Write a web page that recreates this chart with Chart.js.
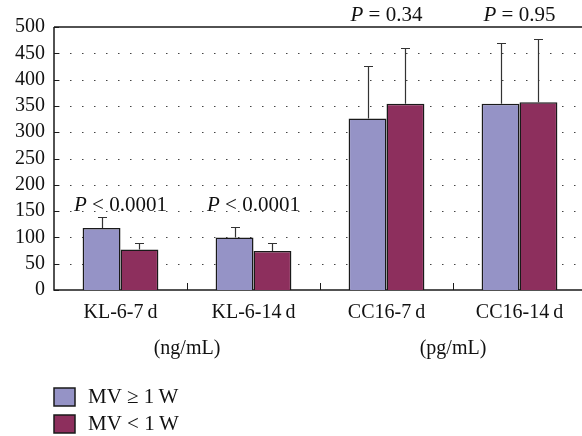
<!DOCTYPE html>
<html>
<head>
<meta charset="utf-8">
<script src="https://cdn.jsdelivr.net/npm/chart.js@4/dist/chart.umd.min.js"></script>
<style>
html, body { margin: 0; padding: 0; background: #fff; overflow: hidden; }
#wrap { width: 590px; height: 436px; }
</style>
</head>
<body>
<div id="wrap"><canvas id="c" width="590" height="436"></canvas></div>
<script>
// values
const categories = ['KL-6-7\u2009d', 'KL-6-14\u2009d', 'CC16-7\u2009d', 'CC16-14\u2009d'];
const seriesNames = ['MV \u2265 1\u2009W', 'MV < 1\u2009W'];
const longMV = [118, 100, 326, 354];
const longMVTop = [139, 119, 425, 470];   // end of upper whisker
const shortMV = [77, 74, 354, 357];
const shortMVTop = [90, 89, 461, 477];
const pTexts = ['< 0.0001', '< 0.0001', '= 0.34', '= 0.95'];
const pAt = [161, 161, 521, 521];
const units = ['(ng/mL)', '(pg/mL)'];
const yTicks = [0, 50, 100, 150, 200, 250, 300, 350, 400, 450, 500];

const colors = ['#9593c6', '#8d2f5d'];
const ink = '#1a1a1a';
const serif = "'Liberation Serif', 'Times New Roman', serif";

const decor = {
  id: 'decor',
  beforeDatasetsDraw(chart) {
    const { ctx, chartArea: a, scales: { x, y } } = chart;
    ctx.save();
    // dotted grid
    ctx.strokeStyle = '#444';
    ctx.lineWidth = 1;
    ctx.setLineDash([1.5, 10.5]);
    yTicks.forEach(v => {
      if (v === 0 || v === 500) return;
      const py = Math.round(y.getPixelForValue(v)) + 0.5;
      ctx.beginPath();
      ctx.moveTo(a.left + 4, py);
      ctx.lineTo(a.right, py);
      ctx.stroke();
    });
    ctx.setLineDash([]);
    ctx.strokeStyle = ink;
    ctx.lineWidth = 1.5;
    ctx.beginPath();
    ctx.moveTo(a.left, a.top);
    ctx.lineTo(a.right, a.top);
    ctx.moveTo(a.left, a.top);
    ctx.lineTo(a.left, a.bottom);
    ctx.lineTo(a.right, a.bottom);
    ctx.stroke();
    // inner ticks
    ctx.lineWidth = 1;
    yTicks.forEach(v => {
      const py = Math.round(y.getPixelForValue(v)) + 0.5;
      ctx.beginPath();
      ctx.moveTo(a.left, py);
      ctx.lineTo(a.left + 5, py);
      ctx.stroke();
    });
    for (let i = 1; i < categories.length; i++) {
      const px = Math.round((x.getPixelForValue(i - 1) + x.getPixelForValue(i)) / 2) + 0.5;
      ctx.beginPath();
      ctx.moveTo(px, a.bottom);
      ctx.lineTo(px, a.bottom - 7);
      ctx.stroke();
    }
    ctx.restore();
  },
  afterDatasetsDraw(chart) {
    const { ctx, scales: { x, y } } = chart;
    ctx.save();
    ctx.strokeStyle = '#333';
    ctx.lineWidth = 1.2;
    [longMVTop, shortMVTop].forEach((tops, di) => {
      const meta = chart.getDatasetMeta(di);
      tops.forEach((t, i) => {
        const bar = meta.data[i];
        const px = Math.round(bar.x) + 0.5;
        const y0 = bar.y;
        const y1 = Math.round(y.getPixelForValue(t)) + 0.5;
        ctx.beginPath();
        ctx.moveTo(px, y0);
        ctx.lineTo(px, y1);
        ctx.moveTo(px - 4.5, y1);
        ctx.lineTo(px + 4.5, y1);
        ctx.stroke();
      });
    });

    // P values
    ctx.fillStyle = '#111';
    ctx.textBaseline = 'middle';
    ctx.textAlign = 'left';
    pTexts.forEach((t, i) => {
      ctx.font = 'italic 21px ' + serif;
      const wp = ctx.measureText('P').width;
      ctx.font = '21px ' + serif;
      const rest = ' ' + t;
      const wr = ctx.measureText(rest).width;
      const cx = x.getPixelForValue(i);
      const py = y.getPixelForValue(pAt[i]);
      const x0 = cx - (wp + wr) / 2;
      ctx.font = 'italic 21px ' + serif;
      ctx.fillText('P', x0, py);
      ctx.font = '21px ' + serif;
      ctx.fillText(rest, x0 + wp, py);
    });

    // unit labels, one under each pair of categories
    ctx.textAlign = 'center';
    ctx.font = '20px ' + serif;
    units.forEach((u, k) => {
      const cx = (x.getPixelForValue(2 * k) + x.getPixelForValue(2 * k + 1)) / 2;
      ctx.fillText(u, cx, 349);
    });

    // legend
    ctx.textAlign = 'left';
    ctx.font = '21px ' + serif;
    seriesNames.forEach((n, i) => {
      const top = 388 + i * 27;
      ctx.fillStyle = colors[i];
      ctx.fillRect(54, top, 21, 18);
      ctx.strokeStyle = ink;
      ctx.lineWidth = 1.5;
      ctx.strokeRect(54, top, 21, 18);
      ctx.fillStyle = '#111';
      ctx.fillText(n, 88, top + 9);
    });
    ctx.restore();
  }
};

new Chart(document.getElementById('c'), {
  type: 'bar',
  data: {
    labels: categories,
    datasets: [
      { label: seriesNames[0], data: longMV, backgroundColor: colors[0], borderColor: ink, borderWidth: 1.5 },
      { label: seriesNames[1], data: shortMV, backgroundColor: colors[1], borderColor: ink, borderWidth: 1.5 }
    ]
  },
  options: {
    responsive: false,
    animation: false,
    events: [],
    layout: { padding: { top: 27, right: 4, left: 0, bottom: 0 } },
    datasets: { bar: { categoryPercentage: 0.57, barPercentage: 1 } },
    plugins: { legend: { display: false }, tooltip: { enabled: false } },
    scales: {
      x: {
        grid: { display: false, drawTicks: false },
        border: { display: false },
        ticks: { color: '#111', font: { family: serif, size: 20 }, padding: 11, maxRotation: 0, autoSkip: false },
        afterFit: s => { s.height = 146; }
      },
      y: {
        min: 0, max: 500,
        grid: { display: false, drawTicks: false },
        border: { display: false },
        ticks: { stepSize: 50, autoSkip: false, color: '#111', font: { family: serif, size: 20 }, padding: 9 },
        afterFit: s => { s.width = 54; }
      }
    }
  },
  plugins: [decor]
});
</script>
</body>
</html>
